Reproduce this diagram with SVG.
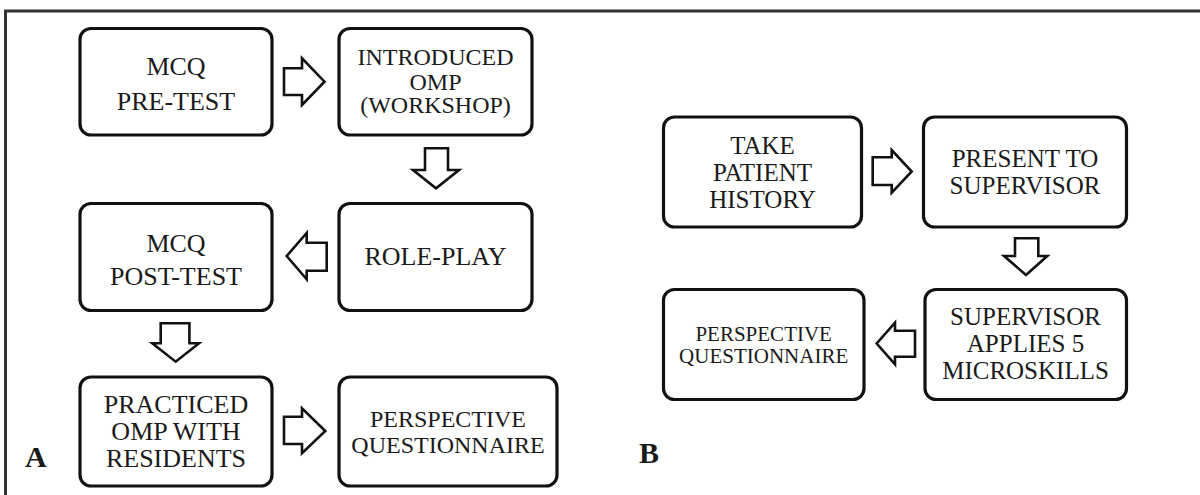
<svg xmlns="http://www.w3.org/2000/svg" width="1200" height="495" viewBox="0 0 1200 495" font-family="Liberation Serif, DejaVu Serif, serif">
<style>
.box{fill:#fff;stroke:#111;stroke-width:3.2}
.arr{fill:#fff;stroke:#111;stroke-width:2.6;stroke-linejoin:miter}
text{font-family:'Liberation Serif','DejaVu Serif',serif;fill:#1a1a1a;text-anchor:middle}
.t26{font-size:26px}
.t25{font-size:25px}
.t24{font-size:24px}
.t21{font-size:21px}
.lbl{font-size:30px;font-weight:bold;text-anchor:start}
</style>
<rect x="0" y="0" width="1200" height="495" fill="#fff"/>
<g id="frame">
<line x1="4" y1="11" x2="1200" y2="11" stroke="#333" stroke-width="3"/>
<line x1="5.5" y1="10" x2="5.5" y2="495" stroke="#333" stroke-width="3"/>
</g>
<g id="connectors">
<polygon class="arr" points="284,68.3 302,68.3 302,58.3 324.5,81.7 302,105 302,95 284,95"/>
<polygon class="arr" points="425,148.3 448,148.3 448,170 459,170 436,188.3 413,170 425,170"/>
<polygon class="arr" points="326.7,242.7 306.7,242.7 306.7,233 286.7,256 306.7,279.3 306.7,270.7 326.7,270.7"/>
<polygon class="arr" points="160.7,323.3 189.4,323.3 189.4,343.3 199,343.3 175.7,361.7 152.3,343.3 160.7,343.3"/>
<polygon class="arr" points="284,416.7 302,416.7 302,408.3 325.3,431 302,453.3 302,444 284,444"/>
<polygon class="arr" points="872.7,157.3 891.7,157.3 891.7,150 911.7,171.5 891.7,192.7 891.7,185 872.7,185"/>
<polygon class="arr" points="1015,238.3 1038.3,238.3 1038.3,256 1047.3,256 1026,275 1004,256 1015,256"/>
<polygon class="arr" points="915,330.7 895,330.7 895,322.7 876.7,343.5 895,364.3 895,356.7 915,356.7"/>
</g>
<g id="a-pretest">
<rect class="box" x="80" y="28.5" width="192" height="106.5" rx="11"/>
<text class="t26" x="176" y="75">MCQ</text>
<text class="t26" x="176" y="110">PRE-TEST</text>
</g>
<g id="a-introduced">
<rect class="box" x="339" y="28.5" width="193" height="106.5" rx="11"/>
<text class="t24" x="435.5" y="65">INTRODUCED</text>
<text class="t24" x="435.5" y="89.5">OMP</text>
<text class="t24" x="435.5" y="113">(WORKSHOP)</text>
</g>
<g id="a-roleplay">
<rect class="box" x="339" y="203.5" width="193" height="107" rx="11"/>
<text class="t26" x="435.5" y="265">ROLE-PLAY</text>
</g>
<g id="a-posttest">
<rect class="box" x="80" y="203.5" width="192" height="107" rx="11"/>
<text class="t26" x="176" y="251.7">MCQ</text>
<text class="t26" x="176" y="285">POST-TEST</text>
</g>
<g id="a-practiced">
<rect class="box" x="80" y="377" width="192" height="109" rx="11"/>
<text class="t26" x="176" y="413.3">PRACTICED</text>
<text class="t26" x="176" y="440">OMP WITH</text>
<text class="t26" x="176" y="466.7">RESIDENTS</text>
</g>
<g id="a-perspective">
<rect class="box" x="339" y="377" width="218" height="109" rx="11"/>
<text class="t24" x="448" y="426.7">PERSPECTIVE</text>
<text class="t24" x="448" y="452.7">QUESTIONNAIRE</text>
</g>
<g id="label-a"><text class="lbl" x="25" y="467">A</text></g>
<g id="b-history">
<rect class="box" x="663.5" y="117" width="198" height="110" rx="11"/>
<text class="t25" x="762.5" y="154.3">TAKE</text>
<text class="t25" x="762.5" y="181">PATIENT</text>
<text class="t25" x="762.5" y="207.5">HISTORY</text>
</g>
<g id="b-present">
<rect class="box" x="923.5" y="117" width="203" height="110" rx="11"/>
<text class="t25" x="1025" y="166.7">PRESENT TO</text>
<text class="t25" x="1025" y="194">SUPERVISOR</text>
</g>
<g id="b-supervisor">
<rect class="box" x="925" y="289.5" width="201.5" height="110" rx="11"/>
<text class="t25" x="1025.5" y="325">SUPERVISOR</text>
<text class="t25" x="1025.5" y="351.7">APPLIES 5</text>
<text class="t25" x="1025.5" y="379">MICROSKILLS</text>
</g>
<g id="b-perspective">
<rect class="box" x="663.5" y="289.5" width="200.5" height="110" rx="11"/>
<text class="t21" x="763.7" y="341">PERSPECTIVE</text>
<text class="t21" x="763.7" y="362.7">QUESTIONNAIRE</text>
</g>
<g id="label-b"><text class="lbl" x="639" y="463">B</text></g>
</svg>
